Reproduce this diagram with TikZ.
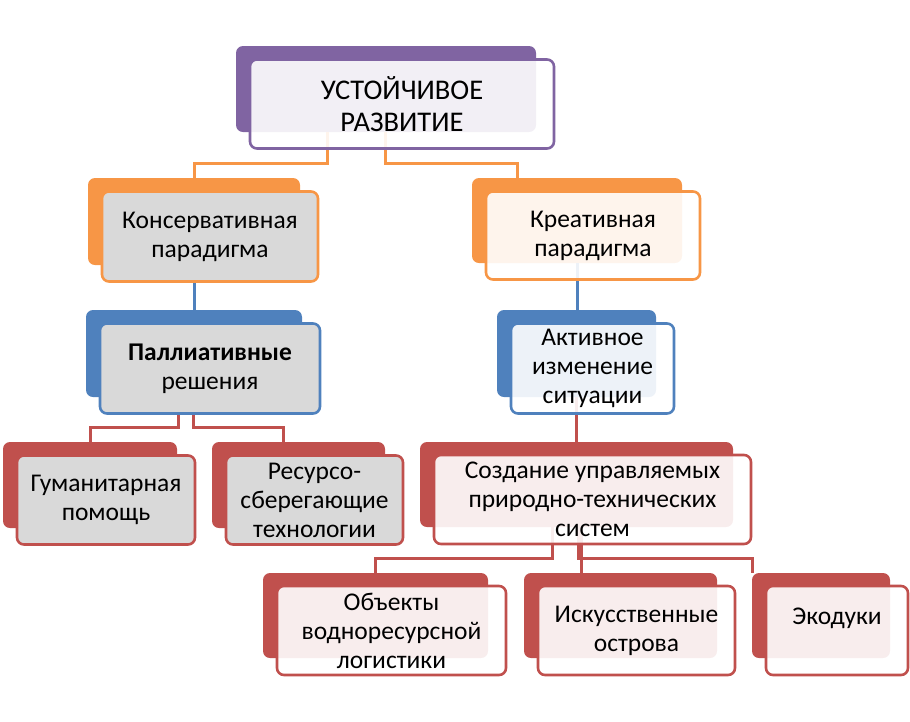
\documentclass[tikz,border=0pt]{standalone}
\usepackage{fontspec}
\setmainfont{Carlito}
\usepackage{xcolor}
\usepackage{tikz}
\usetikzlibrary{positioning,calc}
\definecolor{sdPurple}{HTML}{8064A2}
\definecolor{sdOrange}{HTML}{F79646}
\definecolor{sdBlue}{HTML}{4F81BD}
\definecolor{sdRed}{HTML}{C0504D}
\definecolor{sdGrey}{HTML}{D9D9D9}
\tikzset{
  backbox/.style={
    rectangle,
    rounded corners=7pt,
    fill=#1, draw=none,
    inner sep=0pt},
  frontbox/.style={
    rectangle,
    rounded corners=7pt,
    draw=#1, line width=2.6pt,
    fill=white, fill opacity=0.9, text opacity=1, draw opacity=1,
    inner sep=0pt,
    align=center,
    font=\fontsize{25.5}{29}\selectfont,
    shift={(16,15)}},
  greybox/.style={frontbox=#1, fill=sdGrey, fill opacity=1},
  link/.style={draw=#1, line width=3pt},
}
\begin{document}
\begin{tikzpicture}[x=1pt,y=-1pt]
  \useasboundingbox (0,0) rectangle (910,721);
  % back plates
  \node[backbox=sdPurple, minimum width=300, minimum height=86] (topB)   at (386,89)      {};
  \node[backbox=sdOrange, minimum width=212, minimum height=87] (konsB)  at (194,221.5)   {};
  \node[backbox=sdOrange, minimum width=210, minimum height=85] (kreatB) at (577,220.5)   {};
  \node[backbox=sdBlue,   minimum width=216, minimum height=87] (pallB)  at (194,353.5)   {};
  \node[backbox=sdBlue,   minimum width=159, minimum height=87] (aktB)   at (576.5,353.5) {};
  \node[backbox=sdRed,    minimum width=174, minimum height=86] (gumB)   at (90,485)      {};
  \node[backbox=sdRed,    minimum width=173, minimum height=86] (resB)   at (298.5,485)   {};
  \node[backbox=sdRed,    minimum width=313, minimum height=85] (sozB)   at (576.5,484.5) {};
  \node[backbox=sdRed,    minimum width=225, minimum height=85] (objB)   at (375.5,615.5) {};
  \node[backbox=sdRed,    minimum width=193, minimum height=85] (iskB)   at (620.5,615.5) {};
  \node[backbox=sdRed,    minimum width=138, minimum height=85] (ekoB)   at (821,615.5)   {};

  % connectors
  \draw[link=sdOrange] ([xshift=-59]topB.south) -- ++(0,31) -| (konsB.north);
  \draw[link=sdOrange] ([xshift=-1]topB.south) -- ++(0,31) -| ([xshift=-60]kreatB.north);
  \draw[link=sdBlue] (konsB.south) -- (pallB.north);
  \draw[link=sdBlue] (kreatB.south) -- (kreatB.south |- aktB.north);
  \draw[link=sdRed] ([xshift=-16]pallB.south) -- ++(0,30) -| (gumB.north);
  \draw[link=sdRed] ([xshift=-1]pallB.south) -- ++(0,30) -| ([xshift=-15]resB.north);
  \draw[link=sdRed] (aktB.south) -- (sozB.north);
  \draw[link=sdRed] ([xshift=-24]sozB.south) -- ++(0,31) -| (objB.north);
  \draw[link=sdRed] ([xshift=5]sozB.south) -- ([xshift=5]sozB.south |- iskB.north);
  \draw[link=sdRed] ([xshift=2]sozB.south) -- ++(0,31) -| ([xshift=-69]ekoB.north);

  % front plates with text
  \node[frontbox=sdPurple, minimum width=304, minimum height=89,
        font=\fontsize{28.5}{32}\selectfont] (top) at (topB) {УСТОЙЧИВОЕ\\РАЗВИТИЕ};
  \node[greybox=sdOrange, minimum width=216, minimum height=90] (kons)  at (konsB)  {Консервативная\\парадигма};
  \node[frontbox=sdOrange, minimum width=214, minimum height=88] (kreat) at (kreatB) {Креативная\\парадигма};
  \node[greybox=sdBlue, minimum width=220, minimum height=90] (pall)  at (pallB)  {\textbf{Паллиативные}\\решения};
  \node[frontbox=sdBlue, minimum width=163, minimum height=90] (akt)   at (aktB)   {Активное\\изменение\\ситуации};
  \node[greybox=sdRed, minimum width=178, minimum height=89] (gum)   at (gumB)   {Гуманитарная\\помощь};
  \node[greybox=sdRed, minimum width=177, minimum height=89] (res)   at (resB)   {Ресурсо-\\сберегающие\\технологии};
  \node[frontbox=sdRed, minimum width=317, minimum height=89] (soz)   at (sozB)   {Создание управляемых\\природно-технических\\систем};
  \node[frontbox=sdRed, minimum width=229, minimum height=89] (obj)   at (objB)   {Объекты\\водноресурсной\\логистики};
  \node[frontbox=sdRed, minimum width=197, minimum height=89] (isk)   at (iskB)   {Искусственные\\острова};
  \node[frontbox=sdRed, minimum width=142, minimum height=89] (eko)   at (ekoB)   {Экодуки\\\mbox{}};
\end{tikzpicture}
\end{document}
